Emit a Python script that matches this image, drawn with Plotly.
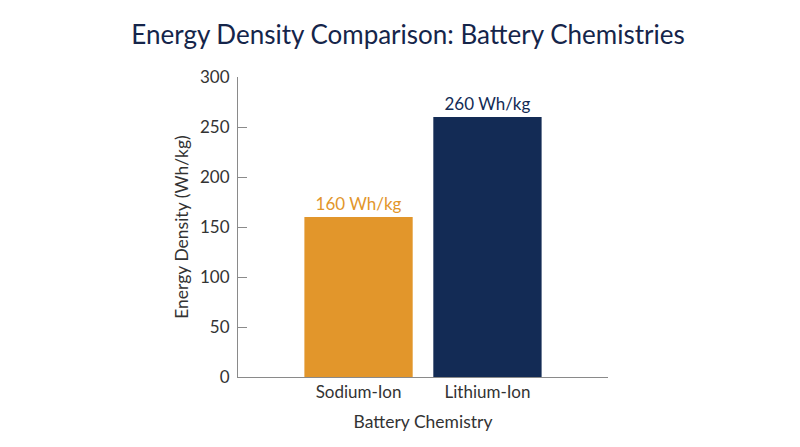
import plotly.graph_objects as go

chemistries = ["Sodium-Ion", "Lithium-Ion"]
energy_density = [160, 260]
bar_labels = ["160 Wh/kg", "260 Wh/kg"]
bar_colors = ["#E2962B", "#132B55"]

fig = go.Figure()

fig.add_trace(go.Bar(
        x=chemistries,
        y=energy_density,
        text=bar_labels,
        textposition="outside",
        textfont=dict(size=17, color=bar_colors),
        marker=dict(color=bar_colors, line=dict(width=0)),
        cliponaxis=False,
        hoverinfo="skip"))

fig.update_layout(
        width=800,
        height=447,
        paper_bgcolor="white",
        plot_bgcolor="white",
        font=dict(family="Lato, Open Sans, sans-serif", color="#333333"),
        title=dict(
            text="Energy Density Comparison: Battery Chemistries",
            x=0.5,
            xanchor="center",
            y=0.94,
            yanchor="middle",
            font=dict(size=26, color="#15254A")),
        margin=dict(l=230, r=200, t=69, b=78),
        bargap=0.16,
        showlegend=False)

fig.update_xaxes(
        range=[-0.935, 1.935],
        showline=True,
        linecolor="#8A8A8A",
        linewidth=1,
        ticks="",
        tickfont=dict(size=17, color="#333333"),
        title=dict(text="Battery Chemistry", font=dict(size=17.5, color="#333333"), standoff=14),
        showgrid=False)

fig.update_yaxes(
        range=[0, 300],
        dtick=50,
        showline=True,
        linecolor="#8A8A8A",
        linewidth=1,
        ticks="inside",
        ticklen=9,
        tickcolor="#8A8A8A",
        ticklabelstandoff=4,
        tickfont=dict(size=17, color="#333333"),
        title=dict(text="Energy Density (Wh/kg)", font=dict(size=17.5, color="#333333"), standoff=6),
        showgrid=False,
        zeroline=False)

fig.write_html("out.html")
